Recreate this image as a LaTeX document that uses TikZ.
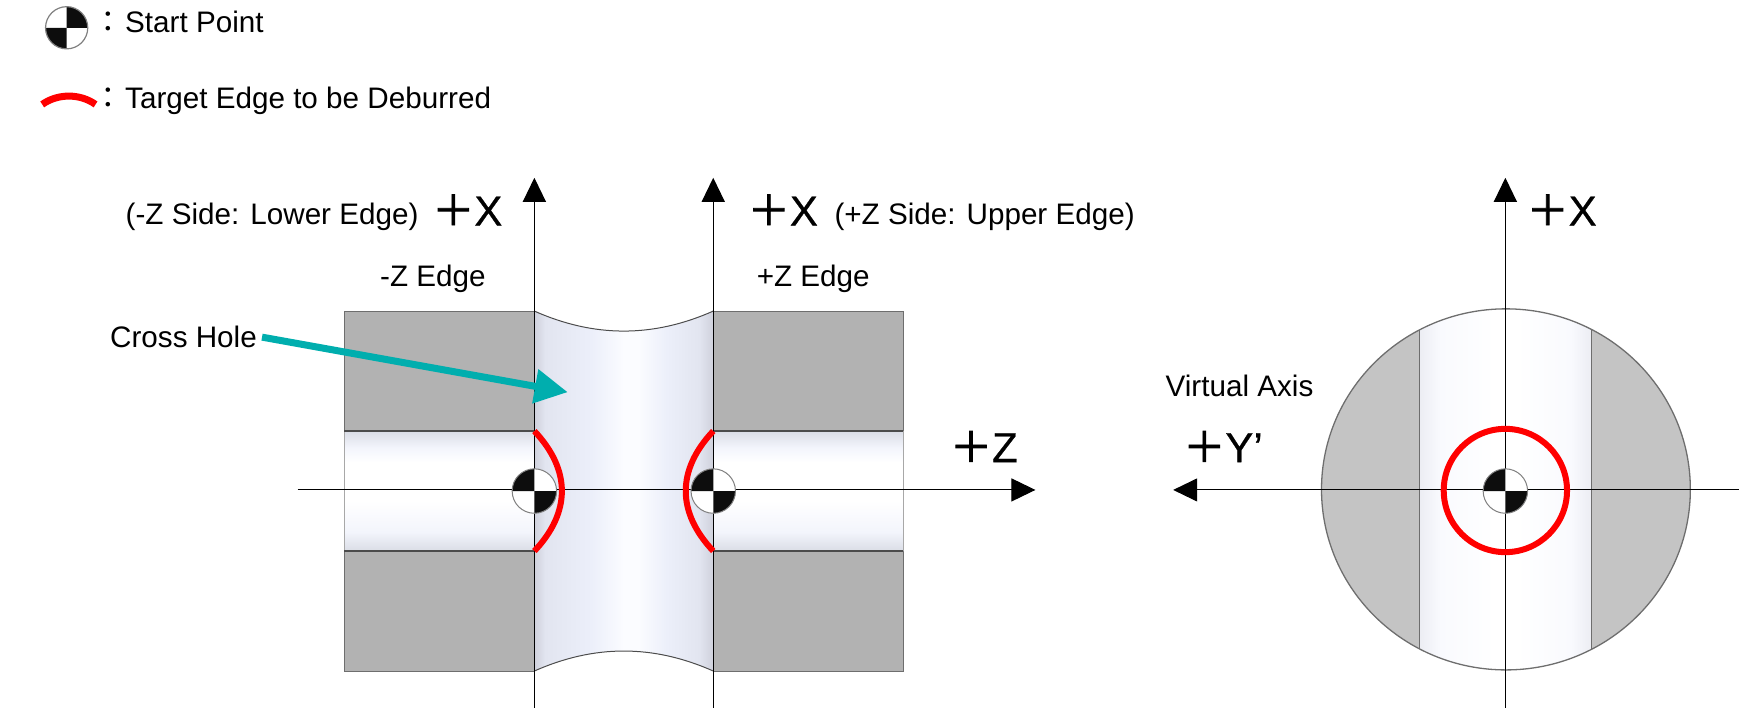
\documentclass[tikz,border=0pt]{standalone}
\usepackage{fontspec}
\setmainfont{Liberation Sans}
\newfontfamily\cjk{Noto Sans CJK JP}
\newfontfamily\cjkb[FakeBold=2]{Noto Sans CJK JP}
\newfontfamily\sansb[FakeBold=0.6]{Liberation Sans}
\usetikzlibrary{arrows.meta}
\definecolor{teal1}{HTML}{00AEAE}
\definecolor{gA}{HTML}{B2B2B2}
\definecolor{gB}{HTML}{C4C4C4}
\definecolor{edgeD}{HTML}{6E6E6E}
\definecolor{hA}{HTML}{CFD1DC}
\definecolor{hB}{HTML}{E2E5F0}
\definecolor{hC}{HTML}{ECEFFA}
\definecolor{hD}{HTML}{FBFCFF}
\definecolor{bA}{HTML}{DADDE6}
\definecolor{bB}{HTML}{F3F5FC}
\definecolor{sA}{HTML}{ECEDF3}
\definecolor{sB}{HTML}{F9FAFE}
\pgfdeclarehorizontalshading{holeshade}{100bp}{
 color(0bp)=(hA);
 color(25bp)=(hA);
 color(28bp)=(hB);
 color(41bp)=(hC);
 color(50bp)=(hD);
 color(54bp)=(hD);
 color(62bp)=(hC);
 color(71bp)=(hB);
 color(75bp)=(hA);
 color(100bp)=(hA)}
\pgfdeclareverticalshading{boreshade}{100bp}{
 color(0bp)=(bA);
 color(25bp)=(bA);
 color(33bp)=(bB);
 color(46bp)=(white);
 color(62bp)=(white);
 color(68bp)=(bB);
 color(75bp)=(bA);
 color(100bp)=(bA)}
\pgfdeclarehorizontalshading{stripshade}{100bp}{
 color(0bp)=(sA);
 color(25bp)=(sA);
 color(31bp)=(sB);
 color(47bp)=(white);
 color(53bp)=(white);
 color(69bp)=(sB);
 color(75bp)=(sA);
 color(100bp)=(sA)}
\tikzset{
 x=1.111pt,y=-1.111pt,
 lab/.style={inner sep=0pt,font=\fontsize{29.65}{35}\selectfont,text=black},
 big/.style={inner sep=0pt,font=\fontsize{42}{48}\selectfont,text=black},
 axisline/.style={draw=black,line width=1.1pt,-{Triangle[length=24pt,width=23pt]}},
 rededge/.style={draw=red,line width=6pt},
 solid block/.style={fill=gA,draw=edgeD,line width=1pt},
 mark A/.pic={
  \fill[white] (0,0) circle (20);
  \fill[black!95] (0,0) -- (-20,0) arc[start angle=180,end angle=270,radius=20] -- cycle;
  \fill[black!95] (0,0) -- (20,0) arc[start angle=0,end angle=90,radius=20] -- cycle;
  \draw[gray,line width=1pt] (0,0) circle (20);},
 mark B/.pic={
  \fill[white] (0,0) circle (19);
  \fill[black!95] (0,0) -- (0,-19) arc[start angle=270,end angle=360,radius=19] -- cycle;
  \fill[black!95] (0,0) -- (-19,0) arc[start angle=180,end angle=90,radius=19] -- cycle;
  \draw[gray,line width=1.2pt] (0,0) circle (19);}
}
\newcommand{\bigplus}{{\cjkb ＋}}
\begin{document}
\begin{tikzpicture}
\useasboundingbox (0,0) rectangle (1568,639);
% legend
\pic at (60,25) {mark B};
\node[lab,anchor=base west] (legstart) at (84,29) {{\cjk ：}\hspace{2pt}Start Point};
\draw[red,line width=7pt] (38,94) .. controls (52,84) and (72,84) .. (86,94);
\node[lab,anchor=base west] (legedge) at (84,98) {{\cjk ：}\hspace{2pt}Target Edge to be Deburred};
% left body
\draw[solid block] (310,280) rectangle (481,388);
\draw[solid block] (642,280) rectangle (813,388);
\draw[solid block] (310,496) rectangle (481,604);
\draw[solid block] (642,496) rectangle (813,604);
\shade[shading=boreshade] (310,388) rectangle (481,496);
\shade[shading=boreshade] (642,388) rectangle (813,496);
\draw[edgeD!60,line width=.8pt] (310,388) -- (310,496) (813,388) -- (813,496);
\draw[black!70,line width=1.6pt] (310,388) -- (481,388) (310,496) -- (481,496) (642,388) -- (813,388) (642,496) -- (813,496);
\shade[shading=holeshade] (481,280) .. controls (535,304) and (588,304) .. (642,280) -- (642,604) .. controls (588,580) and (535,580) .. (481,604) -- cycle;
\draw[black!70,line width=1pt] (481,280) .. controls (535,304) and (588,304) .. (642,280);
\draw[black!70,line width=1pt] (481,604) .. controls (535,580) and (588,580) .. (642,604);
% left axes
\coordinate (zstart) at (268,441);
\coordinate (zend) at (932,441);
\coordinate (xa0) at (481,637);
\coordinate (xa1) at (481,160);
\coordinate (xb0) at (642,637);
\coordinate (xb1) at (642,160);
\draw[axisline] (zstart) -- (zend);
\draw[axisline] (xa0) -- (xa1);
\draw[axisline] (xb0) -- (xb1);
\pic at (481,442) {mark A};
\pic at (642,442) {mark A};
\draw[rededge] (481,388) .. controls (514,423) and (514,461) .. (481,496);
\draw[rededge] (642,388) .. controls (609,423) and (609,461) .. (642,496);
% right body
\fill[gB] (1355.5,440.5) ellipse [x radius=166,y radius=162.5];
\begin{scope}
\clip (1355.5,440.5) ellipse [x radius=166,y radius=162.5];
\shade[shading=stripshade] (1277.5,270) rectangle (1432.5,610);
\draw[edgeD,line width=1pt] (1277.5,270) -- (1277.5,610) (1432.5,270) -- (1432.5,610);
\end{scope}
\draw[edgeD,line width=1.3pt] (1355.5,440.5) ellipse [x radius=166,y radius=162.5];
\coordinate (ystart) at (1565,441);
\coordinate (yend) at (1056,441);
\coordinate (xc0) at (1355,637);
\coordinate (xc1) at (1355,160);
\draw[axisline] (ystart) -- (yend);
\draw[axisline] (xc0) -- (xc1);
\pic at (1355,442) {mark A};
\draw[rededge] (1355,441.5) circle (55.5);
% labels
\node[lab,anchor=base west] (lowlab) at (113,202) {(-Z Side: Lower Edge)};
\node[big,anchor=base west] (xl) at (389,203) {\bigplus{\sansb X}};
\node[big,anchor=base west] (xm) at (673,203) {\bigplus{\sansb X}};
\node[lab,anchor=base west] (uplab) at (751,202) {(+Z Side: Upper Edge)};
\node[lab,anchor=base west] (mzedge) at (342,258) {-Z Edge};
\node[lab,anchor=base west] (pzedge) at (681,258) {+Z Edge};
\node[lab,anchor=base west] (crosshole) at (99,313) {Cross Hole};
\node[big,anchor=base west] (zl) at (855,416) {\bigplus{\sansb Z}};
\node[big,anchor=base west] (xr) at (1374,203) {\bigplus{\sansb X}};
\node[lab,anchor=base west] (virt) at (1049,357) {Virtual Axis};
\node[big,anchor=base west] (yl) at (1065,416) {\bigplus{\sansb Y’}};
% cross hole arrow
\coordinate (holetip) at (511,353);
\draw[teal1,line width=7pt,-{Triangle[length=33pt,width=33pt]}] ([xshift=5pt]crosshole.east) -- (holetip);
\end{tikzpicture}
\end{document}
